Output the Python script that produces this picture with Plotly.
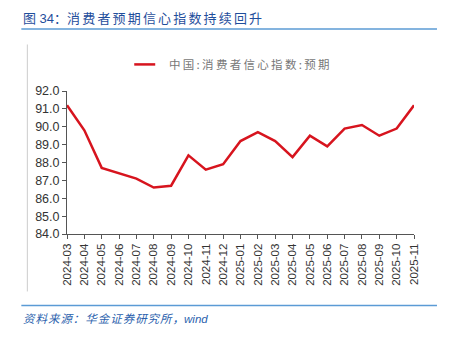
import plotly.graph_objects as go

months = ["2024-03","2024-04","2024-05","2024-06","2024-07","2024-08","2024-09","2024-10","2024-11","2024-12",
          "2025-01","2025-02","2025-03","2025-04","2025-05","2025-06","2025-07","2025-08","2025-09","2025-10","2025-11"]
expect_idx = [91.2, 89.8, 87.7, 87.4, 87.1, 86.6, 86.7, 88.4, 87.6, 87.9,
              89.2, 89.7, 89.2, 88.3, 89.5, 88.9, 89.9, 90.1, 89.5, 89.9, 91.2]
y_ticks = [84, 85, 86, 87, 88, 89, 90, 91, 92]

W, H = 452, 337
L, R, T, B = 66.7, 414.0, 90.7, 234.3

def px(x):
    return (x - L) / (R - L)

def py(y):
    return (B - y) / (B - T)

def spaced(s, sep):
    return sep.join(list(s))

fig = go.Figure()
fig.add_trace(go.Scatter(x=months, y=expect_idx, mode="lines",
                         line=dict(color="#d7141e", width=2.5),
                         name="中国:消费者信心指数:预期", showlegend=False))

fig.update_layout(
    width=W, height=H,
    margin=dict(l=L, r=W - R, t=T, b=H - B, pad=0),
    paper_bgcolor="white", plot_bgcolor="white",
    font=dict(family="Liberation Sans, Arial, Noto Sans CJK SC", color="#333333"),
    xaxis=dict(type="category", range=[0, len(months) - 1], showgrid=False,
               showline=True, linecolor="#555555", linewidth=1,
               ticks="outside", ticklen=4, tickcolor="#555555",
               tickangle=-90, tickfont=dict(size=11.5, color="#333333"),
               zeroline=False),
    yaxis=dict(range=[84, 92], tickvals=y_ticks,
               ticktext=[f"{v:.1f}" for v in y_ticks], showgrid=False,
               showline=True, linecolor="#555555", linewidth=1,
               ticks="outside", ticklen=4, tickcolor="#555555",
               tickfont=dict(size=12.5, color="#333333"), zeroline=False),
    showlegend=False,
)

shapes = [
    dict(type="line", xref="paper", yref="paper", x0=px(21), x1=px(437), y0=py(28.5), y1=py(28.5),
         line=dict(color="#5b9bd5", width=1.5)),
    dict(type="line", xref="paper", yref="paper", x0=px(21), x1=px(437), y0=py(306), y1=py(306),
         line=dict(color="#5b9bd5", width=1.5)),
    dict(type="line", xref="paper", yref="paper", x0=px(27), x1=px(27), y0=py(44), y1=py(292),
         line=dict(color="#cccccc", width=1)),
    dict(type="line", xref="paper", yref="paper", x0=px(134), x1=px(155), y0=py(64), y1=py(64),
         line=dict(color="#d7141e", width=2.5)),
]

title_txt = "图 34：" + spaced("消费者预期信心指数持续回升", "\u200a\u200a")
legend_txt = spaced("中国:消费者信心指数:预期", "\u2009")
footer_txt = spaced("资料来源：华金证券研究所，", "\u200a") + "wind"

annotations = [
    dict(text=title_txt, xref="paper", yref="paper",
         x=px(21), y=py(18), xanchor="left", yanchor="middle", showarrow=False,
         font=dict(size=13, color="#1f4e9c", family="Liberation Sans, Noto Sans CJK SC")),
    dict(text=legend_txt, xref="paper", yref="paper",
         x=px(167), y=py(64), xanchor="left", yanchor="middle", showarrow=False,
         font=dict(size=11.5, color="#777777", family="Noto Sans CJK SC")),
    dict(text="<i>" + footer_txt + "</i>", xref="paper", yref="paper",
         x=px(21), y=py(320), xanchor="left", yanchor="middle", showarrow=False,
         font=dict(size=11.5, color="#2b5fad", family="Liberation Sans, Noto Sans CJK SC")),
]

fig.update_layout(shapes=shapes, annotations=annotations)
fig.write_html("out.html")
